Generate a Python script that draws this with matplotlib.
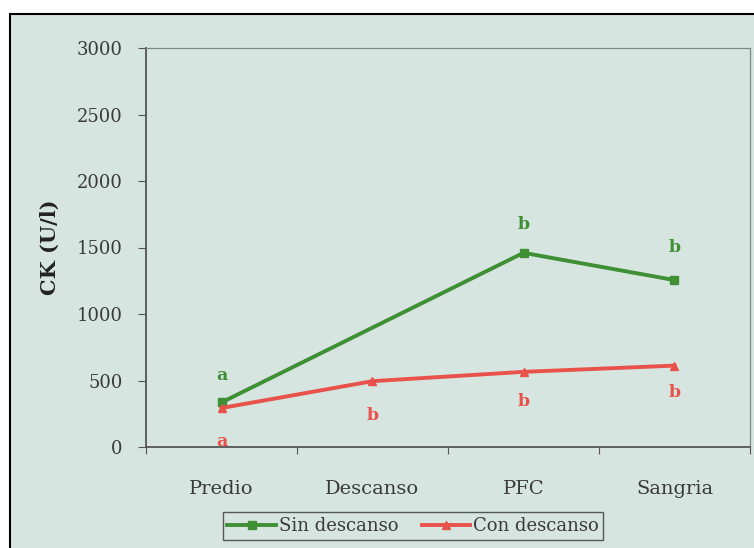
import numpy as np
import matplotlib.pyplot as plt
from matplotlib.patches import Rectangle

categories = ['Predio', 'Descanso', 'PFC', 'Sangria']
sin_descanso = [335, np.nan, 1460, 1255]
con_descanso = [293, 495, 565, 612]
# significance letters: (category index, y position, letter)
sin_letters = [(0, 540, 'a'), (2, 1670, 'b'), (3, 1500, 'b')]
con_letters = [(0, 45, 'a'), (1, 240, 'b'), (2, 345, 'b'), (3, 410, 'b')]
yticks = [0, 500, 1000, 1500, 2000, 2500, 3000]

green = '#3f8f35'
red = '#e8524b'
bg = '#d7e5e1'
txt = '#3a3a3a'

plt.rcParams['font.family'] = ['DejaVu Serif']

fig = plt.figure(figsize=(7.54, 5.48), dpi=100)
fig.patch.set_facecolor('white')
# photo background inside the black frame
fig.patches.append(Rectangle((10 / 754, -0.1), 1.2, 1 - 14 / 548 + 0.1,
                             transform=fig.transFigure, facecolor=bg,
                             edgecolor='black', linewidth=1.5, zorder=-10))

ax = fig.add_axes([146 / 754, 1 - 447 / 548, 604 / 754, 399 / 548])
ax.set_facecolor(bg)

x = np.arange(len(categories)) + 0.5
s = np.array(sin_descanso, dtype=float)
ok = ~np.isnan(s)
ax.plot(x[ok], s[ok], color=green, lw=2.8, marker='s', ms=6,
        label='Sin descanso')
ax.plot(x, con_descanso, color=red, lw=2.8, marker='^', ms=6,
        label='Con descanso')

for i, yv, t in sin_letters:
    ax.text(x[i], yv, t, color=green, ha='center', va='center',
            fontsize=12.5, fontweight='bold')
for i, yv, t in con_letters:
    ax.text(x[i], yv, t, color=red, ha='center', va='center',
            fontsize=12.5, fontweight='bold')

ax.set_xlim(0, len(categories))
ax.set_ylim(0, 3000)
ax.set_yticks(yticks)
ax.set_yticklabels([str(v) for v in yticks], fontsize=13, color=txt)
ax.set_xticks(np.arange(len(categories) + 1))
ax.set_xticklabels([])
ax.set_xticks(x, minor=True)
ax.set_xticklabels(categories, minor=True, fontsize=14, color=txt)
ax.tick_params(axis='x', which='minor', length=0, pad=24)
ax.tick_params(axis='x', which='major', length=5, color='#555555')
ax.tick_params(axis='y', length=6, color='#555555', pad=11)

for side in ['left', 'bottom']:
    ax.spines[side].set_color('#555555')
    ax.spines[side].set_linewidth(1.3)
for side in ['top', 'right']:
    ax.spines[side].set_color('#7a8a88')
    ax.spines[side].set_linewidth(0.9)

ax.set_ylabel('CK (U/l)', fontsize=15, fontweight='bold', color='#222222')
ax.yaxis.set_label_coords(-0.142, 0.5)

leg = fig.legend(loc='center', bbox_to_anchor=(413 / 754, 1 - 526 / 548),
                 ncol=2, frameon=True, fancybox=False, fontsize=13,
                 handlelength=2.7, handletextpad=0.15, columnspacing=1.3,
                 borderpad=0.25, facecolor=bg, edgecolor='#333333')
leg.get_frame().set_linewidth(1.0)
for t in leg.get_texts():
    t.set_color(txt)

fig.savefig('out.png', dpi=100, facecolor=fig.get_facecolor())
